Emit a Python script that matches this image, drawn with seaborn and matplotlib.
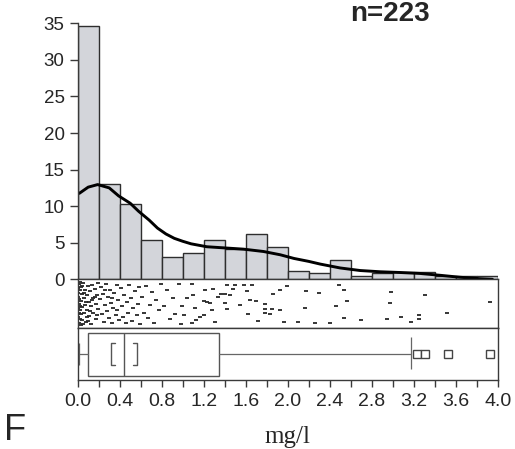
import numpy as np
import matplotlib
matplotlib.use("Agg")
import matplotlib.pyplot as plt
import seaborn as sns

# ---------------- data ----------------
bin_edges = [0.0, 0.2, 0.4, 0.6, 0.8, 1.0, 1.2, 1.4, 1.6, 1.8, 2.0,
             2.2, 2.4, 2.6, 2.8, 3.0, 3.2, 3.4, 3.6, 3.8, 4.0]
pct = [34.6, 13.0, 10.3, 5.4, 3.1, 3.6, 5.4, 4.1, 6.2, 4.4,
       1.2, 0.8, 2.6, 0.45, 0.9, 0.95, 0.95, 0.45, 0.45, 0.45]

curve_x = [0.015, 0.1, 0.19, 0.3, 0.39, 0.5, 0.58, 0.68, 0.76, 0.84, 0.92, 1.0, 1.08,
           1.23, 1.39, 1.58, 1.77, 1.93, 2.06, 2.2, 2.31, 2.5, 2.69, 2.88, 3.07,
           3.26, 3.45, 3.64, 3.83, 3.95]
curve_y = [11.75, 12.6, 12.95, 12.5, 11.4, 10.4, 9.3, 8.1, 7.0, 6.2, 5.6, 5.2, 4.85,
           4.45, 4.3, 4.12, 3.8, 3.35, 2.85, 2.45, 2.08, 1.55, 1.2, 1.03, 0.93,
           0.8, 0.55, 0.28, 0.08, 0.0]

box_whislo = 0.01
box_q1 = 0.10
box_med = 0.44
box_q3 = 1.35
box_whishi = 3.17
box_fliers = [3.23, 3.31, 3.53, 3.93]
ci_low, ci_high = 0.32, 0.56

rug_x = [
    # 0.0 - 0.2
    0.01, 0.02, 0.00, 0.01, 0.02, 0.00, 0.01, 0.03, 0.04, 0.03, 0.04, 0.03, 0.04,
    0.00, 0.01, 0.00, 0.02, 0.05, 0.06, 0.06, 0.07, 0.07, 0.08, 0.09, 0.09, 0.10,
    0.11, 0.11, 0.12, 0.13, 0.13, 0.14, 0.15, 0.15, 0.16, 0.17, 0.17, 0.18, 0.19,
    0.19, 0.05, 0.08, 0.12, 0.02, 0.06, 0.10, 0.14, 0.18, 0.01, 0.04, 0.09, 0.16,
    0.00, 0.02, 0.03,
    # 0.2 - 0.4
    0.21, 0.22, 0.23, 0.24, 0.25, 0.26, 0.27, 0.28, 0.29, 0.30, 0.31, 0.32, 0.33,
    0.34, 0.35, 0.36, 0.37, 0.38, 0.39, 0.26, 0.33, 0.37,
    # 0.4 - 0.6
    0.41, 0.42, 0.43, 0.44, 0.46, 0.47, 0.48, 0.49, 0.51, 0.52, 0.53, 0.55, 0.56,
    0.57, 0.58, 0.59,
    # 0.6 - 1.0
    0.61, 0.63, 0.65, 0.67, 0.69, 0.71, 0.73, 0.75, 0.77, 0.79,
    0.82, 0.85, 0.88, 0.91, 0.93, 0.96, 0.98,
    # 1.0 - 2.0
    1.09, 1.42, 1.50, 1.58, 1.66, 1.29, 1.21, 1.48, 1.61, 1.10, 1.36, 1.40, 1.45,
    1.86, 1.93, 1.99, 1.20, 1.23, 1.26, 1.40, 1.64, 1.70, 1.78, 0.99, 1.12, 1.28,
    1.42, 1.78, 1.85, 1.93, 1.01, 1.20, 1.62, 1.78, 1.83, 1.13, 1.09, 1.31, 1.96,
    1.04, 1.16, 1.34, 1.55, 1.72,
    # 2.0 - 3.0
    2.49, 2.54, 2.17, 2.30, 2.56, 2.46, 2.98, 2.97, 2.16, 2.54, 2.70, 2.95, 2.10,
    2.26, 2.40,
    # 3.0 - 4.0
    3.31, 3.93, 3.52, 3.08, 3.25, 3.25, 3.17,
]
rug_y = [
    0.95, 0.80, 0.65, 0.50, 0.35, 0.20, 0.08, 0.88, 0.72, 0.57, 0.42, 0.27, 0.13,
    0.86, 0.60, 0.40, 0.15, 0.96, 0.62, 0.30, 0.82, 0.47, 0.10, 0.70, 0.37, 0.90,
    0.55, 0.22, 0.78, 0.44, 0.05, 0.93, 0.64, 0.30, 0.84, 0.50, 0.16, 0.70, 0.38,
    0.97, 0.05, 0.55, 0.34, 0.99, 0.75, 0.12, 0.58, 0.24, 0.30, 0.90, 0.20, 0.66,
    0.75, 0.45, 0.02,
    0.60, 0.88, 0.28, 0.72, 0.10, 0.48, 0.94, 0.33, 0.66, 0.18, 0.82, 0.52, 0.06,
    0.40, 0.75, 0.25, 0.92, 0.58, 0.14, 0.80, 0.62, 0.36,
    0.85, 0.45, 0.20, 0.70, 0.08, 0.55, 0.30, 0.92, 0.62, 0.12, 0.40, 0.78, 0.24,
    0.50, 0.88, 0.05,
    0.66, 0.30, 0.90, 0.18, 0.48, 0.77, 0.08, 0.58, 0.35, 0.94,
    0.45, 0.80, 0.15, 0.62, 0.28, 0.95, 0.05,
    0.94, 0.92, 0.92, 0.92, 0.92, 0.83, 0.80, 0.83, 0.78, 0.69, 0.73, 0.71, 0.69,
    0.73, 0.82, 0.89, 0.56, 0.55, 0.52, 0.52, 0.59, 0.57, 0.49, 0.45, 0.40, 0.37,
    0.38, 0.38, 0.38, 0.36, 0.24, 0.24, 0.28, 0.29, 0.26, 0.14, 0.08, 0.10, 0.10,
    0.62, 0.20, 0.65, 0.48, 0.12,
    0.92, 0.81, 0.78, 0.74, 0.56, 0.45, 0.76, 0.52, 0.40, 0.19, 0.14, 0.16, 0.10,
    0.08, 0.08,
    0.69, 0.54, 0.30, 0.21, 0.24, 0.17, 0.10,
]

x_major = [0.0, 0.4, 0.8, 1.2, 1.6, 2.0, 2.4, 2.8, 3.2, 3.6, 4.0]
x_minor = [0.2, 0.6, 1.0, 1.4, 1.8, 2.2, 2.6, 3.0, 3.4, 3.8]
y_ticks = [0, 5, 10, 15, 20, 25, 30, 35]

# ---------------- style ----------------
sns.set_style("ticks")
plt.rcParams["font.family"] = ["Liberation Sans", "DejaVu Sans"]
plt.rcParams["axes.edgecolor"] = "#3a3a3a"
plt.rcParams["axes.linewidth"] = 1.0

W, H = 515, 449
fig = plt.figure(figsize=(W / 100, H / 100), dpi=100)


def rect(l, t, r, b):
    return [l / W, 1 - b / H, (r - l) / W, (b - t) / H]


ax_h = fig.add_axes(rect(77.7, 23.3, 497.7, 279.3))
ax_r = fig.add_axes(rect(77.7, 279.3, 497.7, 328.3))
ax_b = fig.add_axes(rect(77.7, 328.3, 497.7, 379.5))

# histogram
centers = [(a + b) / 2 for a, b in zip(bin_edges[:-1], bin_edges[1:])]
sns.histplot(x=centers, weights=pct, bins=bin_edges, color="#d3d5da",
             edgecolor="#2e2e2e", linewidth=1.0, alpha=1.0, ax=ax_h)
sns.lineplot(x=curve_x, y=curve_y, color="black", linewidth=2.1, ax=ax_h)
ax_h.set_xlim(0, 4)
ax_h.set_ylim(0, 35)
ax_h.set_xticks([])
ax_h.set_yticks(y_ticks)
ax_h.set_xlabel("")
ax_h.set_ylabel("")
for s in ["top", "right", "bottom"]:
    ax_h.spines[s].set_visible(False)
ax_h.tick_params(axis="y", direction="out", length=6, width=1,
                 labelsize=13.5, pad=3.5, color="#3a3a3a")

# rug strip
sns.scatterplot(x=rug_x, y=rug_y, marker="_", s=12, linewidth=1.3,
                color="#262626", ax=ax_r)
ax_r.set_xlim(0, 4)
ax_r.set_ylim(-0.05, 1.05)
ax_r.set_xticks([])
ax_r.set_yticks([])
ax_r.set_xlabel("")
ax_r.set_ylabel("")

# box plot
stats = [dict(med=box_med, q1=box_q1, q3=box_q3, whislo=box_whislo,
              whishi=box_whishi, fliers=box_fliers)]
ax_b.bxp(stats, positions=[0.49], widths=0.84, orientation="horizontal",
         showcaps=False, patch_artist=True,
         boxprops=dict(facecolor="white", edgecolor="#555555", linewidth=1.0),
         medianprops=dict(color="#555555", linewidth=1.0),
         whiskerprops=dict(color="#666666", linewidth=0.9),
         flierprops=dict(marker="s", markersize=6, markerfacecolor="white",
                         markeredgecolor="#444444", markeredgewidth=1.0))
ax_b.vlines([box_whislo], 0.29, 0.72, color="#666666", linewidth=0.9)
ax_b.vlines([box_whishi], 0.20, 0.83, color="#666666", linewidth=0.9)
ax_b.plot([ci_low + 0.035, ci_low, ci_low, ci_low + 0.035],
          [0.72, 0.72, 0.28, 0.28], color="#555555", linewidth=1.0)
ax_b.plot([ci_high - 0.035, ci_high, ci_high, ci_high - 0.035],
          [0.72, 0.72, 0.28, 0.28], color="#555555", linewidth=1.0)
ax_b.set_xlim(0, 4)
ax_b.set_ylim(0, 1)
ax_b.set_yticks([])
ax_b.set_xticks(x_major)
ax_b.set_xticklabels([f"{v:.1f}" for v in x_major])
ax_b.set_xticks(x_minor, minor=True)
ax_b.tick_params(axis="x", which="both", direction="out", length=5, width=1,
                 labelsize=14, pad=4.5, color="#3a3a3a")

# texts
fig.text(390 / W, 1 - 1 / H, "n=223", ha="center", va="top",
         fontsize=20, fontweight="bold")
fig.text(4 / W, 1 - 448 / H, "F", ha="left", va="bottom", fontsize=26,
         family=["Liberation Sans Narrow", "Liberation Sans", "DejaVu Sans"])
fig.text(287 / W, 1 - 443.3 / H, "mg/l", ha="center", va="baseline",
         fontsize=18, family=["Liberation Serif", "DejaVu Serif"])

fig.savefig("out.png", dpi=100)
